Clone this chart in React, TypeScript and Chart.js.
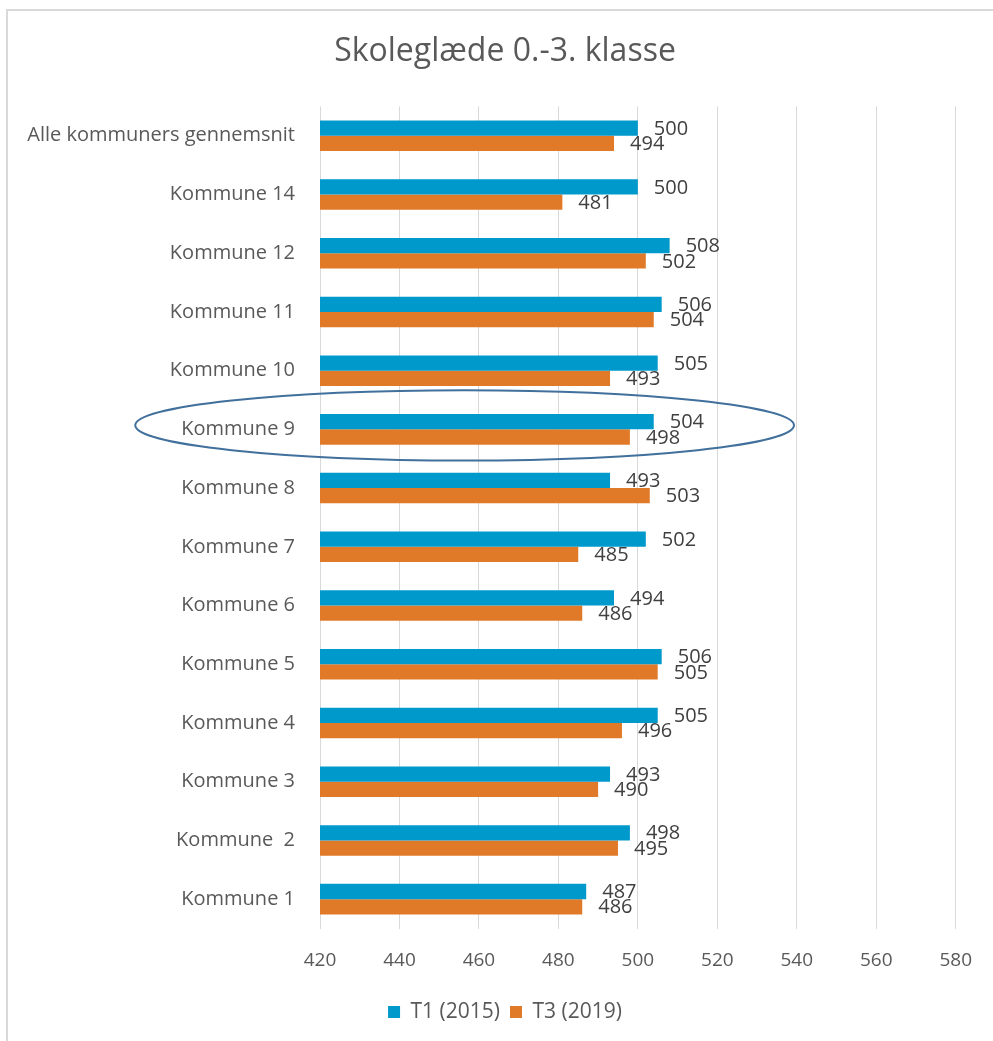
import React, { useEffect, useRef } from "react";
import { Chart, registerables } from "chart.js";

Chart.register(...registerables);

const categories = [
  "Alle kommuners gennemsnit",
  "Kommune 14",
  "Kommune 12",
  "Kommune 11",
  "Kommune 10",
  "Kommune 9",
  "Kommune 8",
  "Kommune 7",
  "Kommune 6",
  "Kommune 5",
  "Kommune 4",
  "Kommune 3",
  "Kommune  2",
  "Kommune 1",
];
const t1Values = [500, 500, 508, 506, 505, 504, 493, 502, 494, 506, 505, 493, 498, 487];
const t3Values = [494, 481, 502, 504, 493, 498, 503, 485, 486, 505, 496, 490, 495, 486];
const seriesNames = ["T1 (2015)", "T3 (2019)"];
const xTicks = [420, 440, 460, 480, 500, 520, 540, 560, 580];
const highlightedCategory = "Kommune 9";

const FONT = "'Open Sans', Lato, sans-serif";

const valueLabels = {
  id: "valueLabels",
  afterDatasetsDraw(chart: any) {
    const ctx = chart.ctx;
    ctx.save();
    ctx.font = `20px ${FONT}`;
    ctx.fillStyle = "#404040";
    ctx.textAlign = "left";
    ctx.textBaseline = "middle";
    chart.data.datasets.forEach((ds: any, di: number) => {
      const meta = chart.getDatasetMeta(di);
      meta.data.forEach((bar: any, i: number) => {
        ctx.fillText(String(ds.data[i]), bar.x + 16, bar.y + 1);
      });
    });
    ctx.restore();
  },
};

const highlightEllipse = {
  id: "highlightEllipse",
  afterDraw(chart: any) {
    const xs = chart.scales.x;
    const ys = chart.scales.y;
    const idx = categories.indexOf(highlightedCategory);
    if (idx < 0) return;
    const x1 = xs.getPixelForValue(373.5);
    const x2 = xs.getPixelForValue(539.3);
    const cy = ys.getPixelForValue(idx) - 4;
    const band = ys.getPixelForValue(1) - ys.getPixelForValue(0);
    const ctx = chart.ctx;
    ctx.save();
    ctx.beginPath();
    ctx.ellipse((x1 + x2) / 2, cy, (x2 - x1) / 2, band * 0.6, 0, 0, Math.PI * 2);
    ctx.strokeStyle = "#41709c";
    ctx.lineWidth = 2;
    ctx.stroke();
    ctx.restore();
  },
};

// let long category labels extend to the canvas edge (avoid label clipping)
const widenLabelArea = {
  id: "widenLabelArea",
  afterLayout(chart: any) {
    if (chart.scales.y) chart.scales.y.left = 0;
  },
};

export default function App() {
  const ref = useRef<HTMLCanvasElement | null>(null);
  useEffect(() => {
    if (!ref.current) return;
    const chart = new Chart(ref.current, {
      type: "bar",
      data: {
        labels: categories,
        datasets: [
          {
            label: seriesNames[0],
            data: t1Values,
            backgroundColor: "#0099cc",
            categoryPercentage: 0.52,
            barPercentage: 1.0,
          },
          {
            label: seriesNames[1],
            data: t3Values,
            backgroundColor: "#e07a28",
            categoryPercentage: 0.52,
            barPercentage: 1.0,
          },
        ],
      },
      options: {
        indexAxis: "y",
        responsive: false,
        animation: false,
        devicePixelRatio: 1,
        layout: { padding: { left: 53, right: 36, top: 0, bottom: 8.5 } },
        scales: {
          x: {
            min: 420,
            max: 580,
            afterBuildTicks(scale: any) {
              scale.ticks = xTicks.map((v) => ({ value: v }));
            },
            afterFit(scale: any) {
              scale.height = 63;
            },
            grid: { color: "#d9d9d9", drawTicks: false },
            border: { display: false },
            ticks: {
              padding: 21,
              color: "#595959",
              font: { family: FONT, size: 19 },
            },
          },
          y: {
            grid: { display: false, drawTicks: false },
            border: { display: false },
            afterFit(scale: any) {
              scale.width = 267;
            },
            ticks: {
              padding: 25,
              color: "#595959",
              font: { family: FONT, size: 20 },
            },
          },
        },
        plugins: {
          title: {
            display: true,
            text: "Skoleglæde 0.-3. klasse",
            color: "#595959",
            font: { family: FONT, size: 32, weight: "normal" },
            padding: { top: 33, bottom: 35 },
          },
          legend: {
            position: "bottom",
            labels: {
              boxWidth: 12,
              boxHeight: 12,
              color: "#595959",
              font: { family: FONT, size: 21 },
              padding: 10,
            },
          },
          tooltip: { enabled: false },
        },
      },
      plugins: [valueLabels, highlightEllipse, widenLabelArea],
    });
    return () => chart.destroy();
  }, []);

  return (
    <div style={{ position: "fixed", left: 0, top: 0, width: 993, height: 1041, background: "#fff", overflow: "hidden" }}>
      <div
        style={{
          position: "absolute",
          left: 6,
          top: 9,
          right: -10,
          bottom: -10,
          borderTop: "2px solid #d9d9d9",
          borderLeft: "2px solid #d9d9d9",
        }}
      />
      <canvas ref={ref} width={993} height={1041} style={{ position: "absolute", left: 0, top: 0, width: 993, height: 1041 }} />
    </div>
  );
}
